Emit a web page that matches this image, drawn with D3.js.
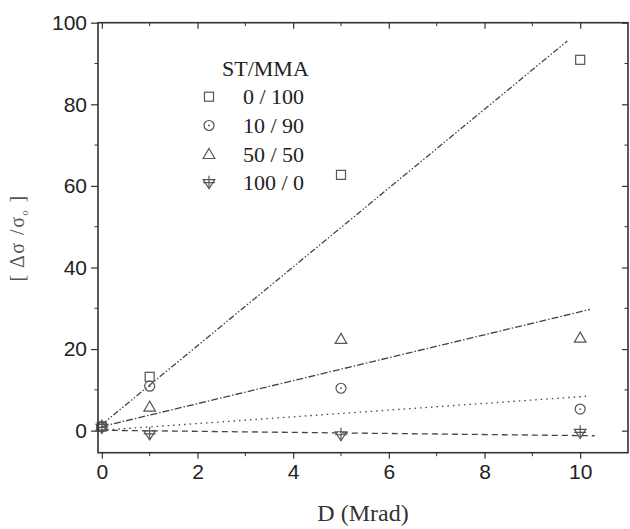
<!DOCTYPE html>
<html><head><meta charset="utf-8">
<script src="https://cdn.jsdelivr.net/npm/d3@7"></script>
<style>body{margin:0;background:#fff}svg{display:block}</style>
</head><body>
<script>
const xTicks = [0, 2, 4, 6, 8, 10];
const xMinor = [1, 3, 5, 7, 9];
const yTicks = [0, 20, 40, 60, 80, 100];
const yMinor = [10, 30, 50, 70, 90];
const seriesNames = ["0 / 100", "10 / 90", "50 / 50", "100 / 0"];
const doses = [0, 1, 5, 10];
const sq = [1.0, 13.2, 62.7, 90.9];
const ci = [1.0, 10.9, 10.4, 5.3];
const tr = [1.2, 5.9, 22.5, 22.8];
const dn = [0.8, -0.8, -1.0, -0.4];
// fit lines: [x0, y0, x1, y1]
const lineSq = [0, 1.5, 9.73, 95.5];
const lineCi = [0, 0.1, 10.2, 8.5];
const lineTr = [0, 1.0, 10.2, 29.7];
const lineDn = [0, 0.1, 10.3, -1.25];

(function () {
const W = 630, H = 529;
const svg = d3.select("body").append("svg").attr("width", W).attr("height", H);
const x = d3.scaleLinear().domain([-0.08, 11]).range([98, 628]);
const y = d3.scaleLinear().domain([-5.4, 100]).range([452.7, 22.7]);
const ink = "#333";

const lines = [
  {d: lineSq, dash: "6,2,1.5,2,1.5,2"},
  {d: lineCi, dash: "1.5,4"},
  {d: lineTr, dash: "7,2,1.5,2"},
  {d: lineDn, dash: "6,4"}
];
svg.append("g").selectAll("line").data(lines).join("line")
  .attr("x1", l => x(l.d[0])).attr("y1", l => y(l.d[1]))
  .attr("x2", l => x(l.d[2])).attr("y2", l => y(l.d[3]))
  .attr("stroke", "#444").attr("stroke-width", 1.3)
  .attr("stroke-dasharray", l => l.dash);

function drawSym(g, type) {
  const st = {fill: "none", stroke: "#555", "stroke-width": 1.2};
  const ap = s => { for (const k in st) s.attr(k, st[k]); return s; };
  if (type === 0) ap(g.append("rect").attr("x", -4.5).attr("y", -4.5).attr("width", 9).attr("height", 9));
  else if (type === 1) {
    ap(g.append("circle").attr("r", 5));
    g.append("circle").attr("r", 0.9).attr("fill", "#555");
  } else if (type === 2) ap(g.append("path").attr("d", "M0,-5.5L5.8,4.5L-5.8,4.5Z"));
  else {
    ap(g.append("path").attr("d", "M-5.8,-3L5.8,-3L0,6Z"));
    ap(g.append("path").attr("d", "M0,-7L0,6M-6,0L6,0"));
  }
}
const series = [sq, ci, tr, dn];
series.forEach((vals, si) => {
  const g = svg.append("g");
  vals.forEach((v, i) => {
    drawSym(g.append("g").attr("transform", `translate(${x(doses[i])},${y(v)})`), si);
  });
});

svg.append("rect").attr("x", 98).attr("y", 22.7).attr("width", 530).attr("height", 430)
  .attr("fill", "none").attr("stroke", ink).attr("stroke-width", 1.6);

const fontSans = "Liberation Sans, Arial, sans-serif";
const axB = d3.axisBottom(x).tickValues(xTicks).tickSize(6).tickSizeOuter(0).tickPadding(5);
const gb = svg.append("g").attr("transform", "translate(0,452.7)").call(axB);
gb.select(".domain").remove();
gb.append("g").selectAll("line").data(xMinor).join("line")
  .attr("x1", d => x(d)).attr("x2", d => x(d)).attr("y1", 0).attr("y2", 3.5).attr("stroke", ink);
const axL = d3.axisLeft(y).tickValues(yTicks).tickSize(7).tickSizeOuter(0).tickPadding(4);
const gl = svg.append("g").attr("transform", "translate(98,0)").call(axL);
gl.select(".domain").remove();
gl.append("g").selectAll("line").data(yMinor).join("line")
  .attr("y1", d => y(d)).attr("y2", d => y(d)).attr("x1", 0).attr("x2", -3.5).attr("stroke", ink);
const axT = d3.axisBottom(x).tickValues(xTicks).tickSize(6).tickFormat("");
const gt = svg.append("g").attr("transform", "translate(0,22.7)").call(axT);
gt.select(".domain").remove();
gt.append("g").selectAll("line").data(xMinor).join("line")
  .attr("x1", d => x(d)).attr("x2", d => x(d)).attr("y1", 0).attr("y2", 3.5).attr("stroke", ink);
const axR = d3.axisLeft(y).tickValues(yTicks).tickSize(6).tickFormat("");
const gr = svg.append("g").attr("transform", "translate(628,0)").call(axR);
gr.select(".domain").remove();
gr.append("g").selectAll("line").data(yMinor).join("line")
  .attr("y1", d => y(d)).attr("y2", d => y(d)).attr("x1", 0).attr("x2", -3.5).attr("stroke", ink);
svg.selectAll(".tick line").attr("stroke", ink).attr("stroke-width", 1.2);
svg.selectAll(".tick text").attr("font-family", fontSans).attr("font-size", 21).attr("fill", "#222");

const serif = "Liberation Serif, Times New Roman, serif";
svg.append("text").attr("x", 363).attr("y", 521).attr("text-anchor", "middle")
  .attr("font-family", serif).attr("font-size", 24).attr("fill", "#333").text("D (Mrad)");
const yl = svg.append("text").attr("transform", "translate(24,238) rotate(-90)")
  .attr("text-anchor", "middle").attr("font-family", serif).attr("font-size", 20)
  .attr("letter-spacing", 1.5).attr("fill", "#555");
yl.append("tspan").text("[  \u0394\u03c3 /\u03c3");
yl.append("tspan").attr("font-size", 10).attr("dy", 4).text("o");
yl.append("tspan").attr("dy", -4).text("  ]");

const lg = svg.append("g");
lg.append("text").attr("x", 222).attr("y", 76).attr("font-family", serif).attr("font-size", 22)
  .attr("fill", "#222").text("ST/MMA");
const rowY = [96.7, 125.5, 154, 182.7];
seriesNames.forEach((n, i) => {
  drawSym(lg.append("g").attr("transform", `translate(209,${rowY[i]})`), i);
  lg.append("text").attr("x", 243).attr("y", rowY[i] + 7.5).attr("font-family", serif)
    .attr("font-size", 22).attr("fill", "#222").text(n);
});
})();
</script>
</body></html>
